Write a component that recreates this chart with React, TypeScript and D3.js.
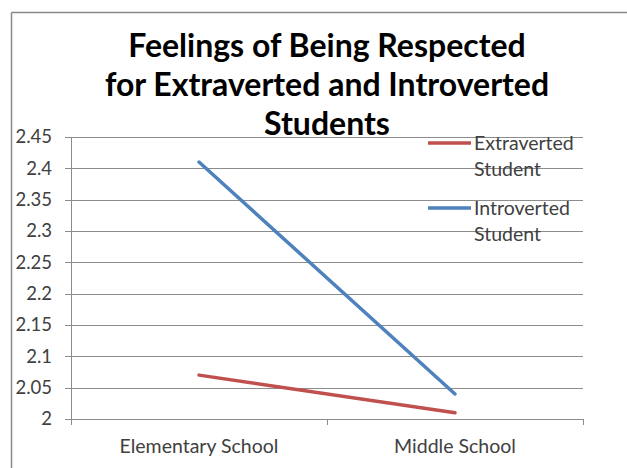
import React from "react";
import * as d3 from "d3";

const categories = ["Elementary School", "Middle School"];
const extravertedValues = [2.07, 2.01];
const introvertedValues = [2.41, 2.04];
const yTicks = [2, 2.05, 2.1, 2.15, 2.2, 2.25, 2.3, 2.35, 2.4, 2.45];
const titleLines = [
  "Feelings of Being Respected",
  "for Extraverted and Introverted",
  "Students",
];
const seriesNames = ["Extraverted Student", "Introverted Student"];

const W = 627;
const H = 468;
const plot = { left: 71, right: 583, top: 137, bottom: 419 };
const RED = "#C0504D";
const BLUE = "#4F81BD";
const GRID = "#8c8c8c";
const LABEL = "#404040";
const FONT = "Lato, 'Open Sans', sans-serif";

export default function App() {
  const x = d3
    .scaleBand<string>()
    .domain(categories)
    .range([plot.left, plot.right])
    .paddingInner(0)
    .paddingOuter(0);
  const y = d3.scaleLinear().domain([2, 2.45]).range([plot.bottom, plot.top]);
  const line = d3
    .line<number>()
    .x((_, i) => (x(categories[i]) as number) + x.bandwidth() / 2)
    .y((d) => y(d));

  const series = [
    { name: seriesNames[0], values: extravertedValues, color: RED },
    { name: seriesNames[1], values: introvertedValues, color: BLUE },
  ];

  const boundaries = [...categories.map((c) => x(c) as number), plot.right];

  return (
    <svg
      width={W}
      height={H}
      style={{ position: "absolute", left: 0, top: 0, background: "#fff" }}
    >
      {/* chart frame */}
      <line x1={11.5} y1={12.5} x2={W} y2={12.5} stroke="#888" strokeWidth={1.5} />
      <line x1={11.5} y1={12.5} x2={11.5} y2={H} stroke="#888" strokeWidth={1.5} />

      {/* title */}
      {titleLines.map((t, i) => (
        <text
          key={t}
          x={327}
          y={57 + i * 39}
          textAnchor="middle"
          fontFamily={FONT}
          fontWeight="bold"
          fontSize={32}
          fill="#000"
        >
          {t}
        </text>
      ))}

      {/* gridlines and y axis */}
      {yTicks.map((t) => (
        <g key={t}>
          <line
            x1={plot.left - 6}
            x2={plot.right}
            y1={Math.round(y(t)) + 0.5}
            y2={Math.round(y(t)) + 0.5}
            stroke={GRID}
            strokeWidth={1}
          />
          <text
            x={52}
            y={y(t)}
            dy="0.35em"
            textAnchor="end"
            fontFamily={FONT}
            fontSize={18.5}
            fill={LABEL}
          >
            {d3.format("")(t)}
          </text>
        </g>
      ))}
      <line
        x1={plot.left + 0.5}
        x2={plot.left + 0.5}
        y1={plot.top}
        y2={plot.bottom + 6}
        stroke={GRID}
      />
      {boundaries.map((b, i) => (
        <line
          key={i}
          x1={Math.round(b) + 0.5}
          x2={Math.round(b) + 0.5}
          y1={plot.bottom}
          y2={plot.bottom + 6}
          stroke={GRID}
        />
      ))}
      {categories.map((c) => (
        <text
          key={c}
          x={(x(c) as number) + x.bandwidth() / 2}
          y={453}
          textAnchor="middle"
          fontFamily={FONT}
          fontSize={19.5}
          fill={LABEL}
        >
          {c}
        </text>
      ))}

      {/* series lines */}
      {series.map((s) => (
        <path
          key={s.name}
          d={line(s.values) as string}
          fill="none"
          stroke={s.color}
          strokeWidth={3.5}
          strokeLinecap="round"
        />
      ))}

      {/* legend */}
      {series.map((s, i) => {
        const [w1, w2] = s.name.split(" ");
        const ly = 143 + i * 65;
        return (
          <g key={s.name}>
            <line x1={428} x2={471} y1={ly} y2={ly} stroke={s.color} strokeWidth={3.5} />
            <text
              x={474}
              y={ly}
              dy="0.35em"
              fontFamily={FONT}
              fontSize={19.5}
              fill={LABEL}
            >
              {w1}
            </text>
            <text
              x={474}
              y={ly + 26}
              dy="0.35em"
              fontFamily={FONT}
              fontSize={19.5}
              fill={LABEL}
            >
              {w2}
            </text>
          </g>
        );
      })}
    </svg>
  );
}
